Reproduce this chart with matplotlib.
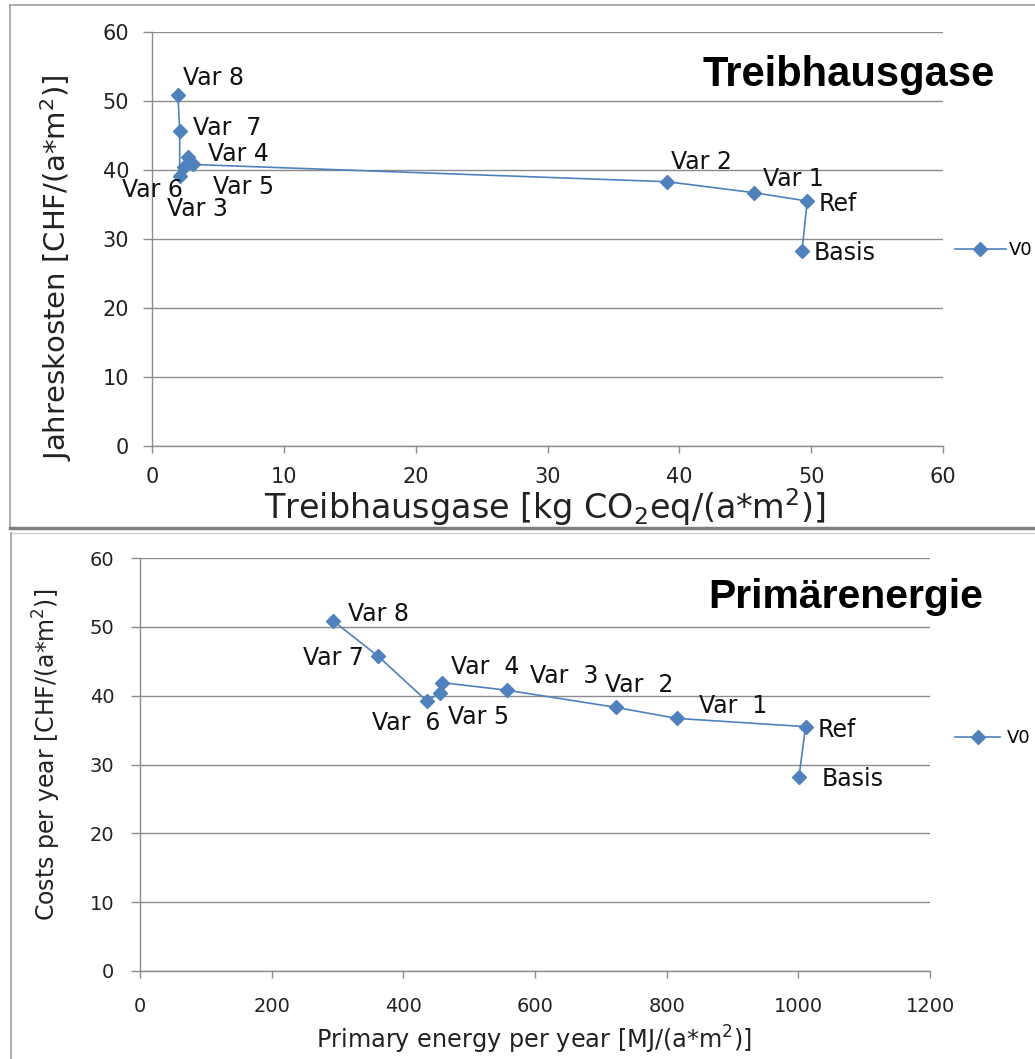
import numpy as np
import matplotlib
matplotlib.use('Agg')
import matplotlib.pyplot as plt
from matplotlib.lines import Line2D

plt.rcParams['font.family'] = ['DejaVu Sans']

# data (same cost values in both)
variants_top = ['Var 8', 'Var  7', 'Var 6', 'Var 5', 'Var 4', 'Var 3', 'Var 2', 'Var 1', 'Ref', 'Basis']
variants_bot = ['Var 8', 'Var 7', 'Var  6', 'Var 5', 'Var  4', 'Var  3', 'Var  2', 'Var  1', 'Ref', 'Basis']
costs = [50.9, 45.7, 39.2, 40.4, 41.9, 40.8, 38.3, 36.7, 35.5, 28.2]
ghg = [1.97, 2.1, 2.1, 2.4, 2.75, 3.1, 39.1, 45.7, 49.7, 49.3]
energy = [293, 362, 436, 455, 458, 557, 723, 815, 1011, 1001]

# label offsets in pixels (dx, dy)
off_top = [(5, 17), (13, 3), (-58, -14), (29, -20), (20, 3), (-26, -45), (4, 20), (9, 14), (11, -3), (12, -2)]
off_bot = [(15, 7), (-75, -2), (-55, -22), (8, -24), (9, 16), (23, 14), (-11, 22), (22, 12), (12, -3), (23, -2)]

blue = '#4F81BD'
grey = '#8C8C8C'
W, H = 1035, 1059

fig = plt.figure(figsize=(W / 100, H / 100), dpi=100)

def style_axes(ax, xmax, xstep, fs):
    ax.set_xlim(0, xmax)
    ax.set_ylim(0, 60)
    ax.set_xticks(np.arange(0, xmax + 1, xstep))
    ax.set_yticks(np.arange(0, 61, 10))
    ax.grid(axis='y', color=grey, lw=1.0)
    ax.set_axisbelow(True)
    for s in ['top', 'right']:
        ax.spines[s].set_visible(False)
    for s in ['left', 'bottom']:
        ax.spines[s].set_color(grey)
        ax.spines[s].set_linewidth(1.0)
    ax.tick_params(axis='both', colors=grey, labelcolor='#222222', labelsize=fs, width=1.0)
    ax.tick_params(axis='y', length=6.5, pad=10)
    ax.tick_params(axis='x', length=5, pad=10)

def draw(ax, xs, labels, offs):
    ax.plot(xs, costs, '-', color=blue, lw=1.2, marker='D', ms=7.5, mfc=blue, mec=blue, label='V0')
    for x, y, t, (dx, dy) in zip(xs, costs, labels, offs):
        ax.annotate(t, (x, y), xytext=(dx, dy), textcoords='offset pixels',
                    ha='left', va='center', fontsize=17, color='#111111')

# top chart: greenhouse gases
ax1 = fig.add_axes([152 / W, 1 - 446 / H, 791 / W, 414 / H])
style_axes(ax1, 60, 10, 15)
draw(ax1, ghg, variants_top, off_top)
ax1.set_xlabel(r'Treibhausgase [kg CO$_2$eq/(a*m$^2$)]', fontsize=24, va='center', color='#222222')
ax1.xaxis.set_label_coords(0.497, -0.147)
ax1.set_ylabel(r'Jahreskosten [CHF/(a*m$^2$)]', fontsize=21, va='center', color='#222222')
ax1.yaxis.set_label_coords(-0.121, 0.43)
fig.text(995 / W, 1 - 75 / H, 'Treibhausgase', fontsize=30, fontweight='bold',
         family='Liberation Sans', ha='right', va='center')
ax1.legend(loc='center left', bbox_to_anchor=(955 / W, 1 - 250 / H), bbox_transform=fig.transFigure,
           frameon=False, borderpad=0, borderaxespad=0, handlelength=2.8, handletextpad=0.2,
           fontsize=13)

# bottom chart: primary energy
ax2 = fig.add_axes([140 / W, 1 - 971 / H, 790 / W, 413 / H])
style_axes(ax2, 1200, 200, 14)
ax2.tick_params(axis='x', pad=14)
ax2.tick_params(axis='y', pad=12)
draw(ax2, energy, variants_bot, off_bot)
ax2.set_xlabel(r'Primary energy per year [MJ/(a*m$^2$)]', fontsize=17.3, va='center', color='#222222')
ax2.xaxis.set_label_coords(0.499, -0.167)
ax2.set_ylabel(r'Costs per year [CHF/(a*m$^2$)]', fontsize=17, va='center', color='#222222')
ax2.yaxis.set_label_coords(-0.118, 0.523)
fig.text(983 / W, 1 - 597 / H, 'Primärenergie', fontsize=29.5, fontweight='bold',
         family='Liberation Sans', ha='right', va='center')
ax2.legend(loc='center left', bbox_to_anchor=(955 / W, 1 - 738 / H), bbox_transform=fig.transFigure,
           frameon=False, borderpad=0, borderaxespad=0, handlelength=2.5, handletextpad=0.35,
           fontsize=13)

# panel borders of the two screenshots
def fline(x0, y0, x1, y1, **kw):
    fig.add_artist(Line2D([x0 / W, x1 / W], [1 - y0 / H, 1 - y1 / H], transform=fig.transFigure, **kw))

fline(10, 5, W, 5, color='#a0a0a0', lw=1.2)
fline(10, 5, 10, 528, color='#a0a0a0', lw=1.2)
fline(10, 528, W, 528, color='#808080', lw=2.5)
fline(11, 533, W, 533, color='#d0d0d0', lw=1.0)
fline(11, 533, 11, H, color='#a0a0a0', lw=1.2)

fig.savefig('out.png', dpi=100)
